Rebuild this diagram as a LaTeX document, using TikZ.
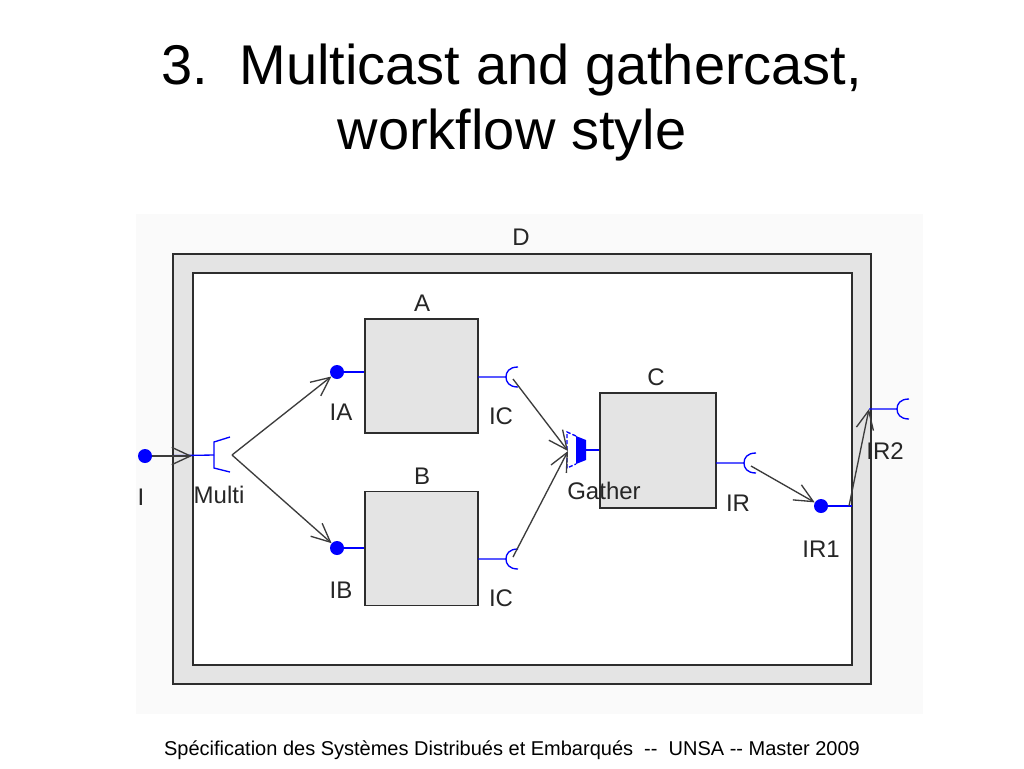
\documentclass[tikz,border=0pt]{standalone}
\usepackage{fontspec}
\setmainfont{Liberation Sans}
\usetikzlibrary{arrows.meta}
\definecolor{boxgray}{RGB}{228,228,228}
\definecolor{shotbg}{RGB}{250,250,250}
\definecolor{edgec}{RGB}{45,45,45}
\definecolor{arrc}{RGB}{60,60,60}
\definecolor{portblue}{RGB}{0,0,255}
\begin{document}
\begin{tikzpicture}[x=0.75pt,y=-0.75pt,
  comp/.style={draw=edgec, fill=boxgray, line width=1.3pt, inner sep=0pt},
  lbl/.style={font=\fontsize{18pt}{20pt}\selectfont, text=black!85, inner sep=0pt},
  pdot/.style={circle, fill=portblue, minimum size=10.5pt, inner sep=0pt},
  pline/.style={draw=portblue, line width=1pt},
  arr/.style={draw=arrc, line width=1pt, -{Straight Barb[length=14pt,width=13pt,line width=1pt]}},
  recept/.pic={\draw[pline] (0,0) -- (28,0)
      (40,-10) .. controls (31,-10) and (28,-5) .. (28,0) .. controls (28,5) and (31,10) .. (40,10);}
]
\useasboundingbox (0,0) rectangle (1024,768);
% title
\node[anchor=base, font=\fontsize{42pt}{48pt}\selectfont] (t1) at (512,84) {3.\ \ Multicast and gathercast,};
\node[anchor=base, font=\fontsize{42pt}{48pt}\selectfont] (t2) at (512,149) {workflow style};
% screenshot background
\fill[shotbg] (136,214) rectangle (923,714);
% component D
\draw[comp] (173,254) rectangle (871,684);
\draw[draw=edgec, fill=white, line width=1.3pt] (193,273) rectangle (852,665);
\node[lbl] (Dl) at (521,237) {D};
% inner components
\node[comp, minimum width=84.75pt, minimum height=85.5pt] (A) at (421.5,376) {};
\node[comp, minimum width=84.75pt, minimum height=85.5pt] (B) at (421.5,548.5) {};
\node[comp, minimum width=87pt, minimum height=86.25pt] (C) at (658,450.5) {};
\node[lbl] (Al) at (422,303) {A};
\node[lbl] (Bl) at (422,476) {B};
\node[lbl] (Cl) at (656,377) {C};
% server ports (dots)
\node[pdot] (I) at (145,456) {};
\node[pdot] (IA) at (337,372) {};
\node[pdot] (IB) at (337,548) {};
\node[pdot] (IR1) at (821,506) {};
\draw[pline] (IA.east) -- (IA -| A.west);
\draw[pline] (IB.east) -- (IB -| B.west);
\draw[pline] (IR1.east) -- (852,506);
% multicast interface
\coordinate (multi) at (214,455);
\coordinate (mfork) at (232,455);
\coordinate (border) at (192,456);
\draw[pline] (I.east) -- (multi);
\draw[pline] (230,437) -- (214,442) -- (214,468) -- (230,472);
% client receptacles
\coordinate (icA) at (478,377);
\coordinate (icB) at (478,559);
\coordinate (ir) at (716,463);
\coordinate (ir2) at (869,409);
\pic at (icA) {recept};
\pic at (icB) {recept};
\pic at (ir) {recept};
\pic at (ir2) {recept};
% gathercast interface
\coordinate (gin) at (568,451);
\draw[pline, dash pattern=on 3pt off 1.5pt] (576,436) -- (567,432) -- (567,468) -- (576,464);
\fill[portblue] (576,436) -- (586,440) -- (586,460) -- (576,464) -- cycle;
\draw[pline] (586,450) -- (C.west |- 0,450);
% connectors
\draw[arr] (I.east) -- (border);
\draw[arr] (mfork) -- (IA);
\draw[arr] (mfork) -- (IB);
\coordinate (icAc) at (513,379);
\coordinate (icBc) at (513,557);
\coordinate (irc) at (751,466);
\coordinate (ir1o) at (849,506);
\draw[arr] (icAc) -- (gin);
\draw[arr] (icBc) -- (gin);
\draw[arr] (irc) -- (IR1);
\draw[arr] (ir1o) -- (ir2);
% labels
\node[lbl] (Il) at (141,497) {I};
\node[lbl] (Ml) at (219,495) {Multi};
\node[lbl] (IAl) at (341,412) {IA};
\node[lbl] (IBl) at (341,590) {IB};
\node[lbl] (ICAl) at (501,416) {IC};
\node[lbl] (ICBl) at (501,598) {IC};
\node[lbl] (Gl) at (604,491) {Gather};
\node[lbl] (IRl) at (738,503) {IR};
\node[lbl] (IR1l) at (821,549) {IR1};
\node[lbl] (IR2l) at (885,451) {IR2};
% footer
\node[anchor=base, font=\fontsize{15pt}{17pt}\selectfont] (foot) at (512,755) {Spécification des Systèmes Distribués et Embarqués\ \ -{}-\ \ UNSA -{}- Master 2009};
\end{tikzpicture}
\end{document}
